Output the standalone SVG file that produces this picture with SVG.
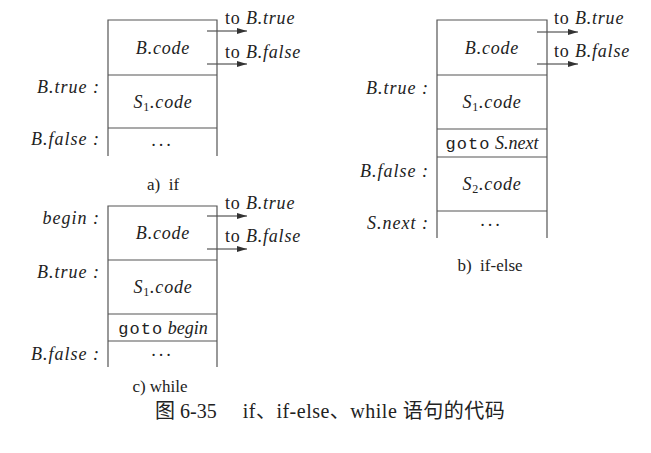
<svg xmlns="http://www.w3.org/2000/svg" width="651" height="453" viewBox="0 0 651 453">
<defs>
<marker id="ah" viewBox="0 0 10 6" refX="10" refY="3" markerWidth="10" markerHeight="6" markerUnits="userSpaceOnUse" orient="auto">
<path d="M0,0 L10,3 L0,6 Z" fill="#333"/>
</marker>
<style>
.box{fill:none;stroke:#555;stroke-width:1.2}
.sep{stroke:#555;stroke-width:1.2}
.arr{stroke:#333;stroke-width:1;marker-end:url(#ah)}
.m{font-family:"Liberation Serif",serif;font-style:italic;font-size:18px;fill:#222}
.c{text-anchor:middle}
.r{text-anchor:end}
.t{font-family:"Liberation Serif",serif;font-size:18px;fill:#222}
.tt{font-family:"Liberation Mono",monospace;font-style:normal;font-size:17px;letter-spacing:1px}
.sub{font-size:12px;font-style:normal}
.cap{font-family:"Liberation Serif",serif;font-size:17px;fill:#222;text-anchor:middle}
.fig{font-family:"Liberation Serif","Noto Sans CJK SC",serif;font-size:20px;fill:#222}
</style>
</defs>

<g id="connectors">
<line class="arr" x1="207" y1="31" x2="247" y2="31"/>
<line class="arr" x1="207" y1="64" x2="247" y2="64"/>
<line class="arr" x1="537" y1="32" x2="578" y2="32"/>
<line class="arr" x1="537" y1="64" x2="578" y2="64"/>
<line class="arr" x1="207" y1="216" x2="247" y2="216"/>
<line class="arr" x1="207" y1="249" x2="247" y2="249"/>
</g>

<g id="if">
<path class="box" d="M108,156 V20 H217 V156"/>
<line class="sep" x1="108" y1="75" x2="217" y2="75"/>
<line class="sep" x1="108" y1="128" x2="217" y2="128"/>
<text class="t" x="225" y="24" letter-spacing="0.8">to <tspan class="m">B.true</tspan></text>
<text class="t" x="225" y="58" letter-spacing="0.8">to <tspan class="m">B.false</tspan></text>
<text class="m c" x="163" y="54" letter-spacing="0.8">B.code</text>
<text class="m c" x="163" y="108" letter-spacing="0.8">S<tspan class="sub" dy="3">1</tspan><tspan dy="-3">.code</tspan></text>
<text class="m c" x="163" y="146" letter-spacing="3">...</text>
<text class="m r" x="100" y="93" letter-spacing="1">B.true  :</text>
<text class="m r" x="100" y="145" letter-spacing="1">B.false  :</text>
<text class="cap" x="163" y="190" xml:space="preserve">a)  if</text>
</g>

<g id="ifelse">
<path class="box" d="M437,238 V20 H547 V238"/>
<line class="sep" x1="437" y1="75" x2="547" y2="75"/>
<line class="sep" x1="437" y1="129" x2="547" y2="129"/>
<line class="sep" x1="437" y1="157" x2="547" y2="157"/>
<line class="sep" x1="437" y1="211" x2="547" y2="211"/>
<text class="t" x="554" y="24" letter-spacing="0.8">to <tspan class="m">B.true</tspan></text>
<text class="t" x="554" y="57" letter-spacing="0.8">to <tspan class="m">B.false</tspan></text>
<text class="m c" x="492" y="54" letter-spacing="0.8">B.code</text>
<text class="m c" x="492" y="108" letter-spacing="0.8">S<tspan class="sub" dy="3">1</tspan><tspan dy="-3">.code</tspan></text>
<text class="m c" x="492" y="149"><tspan class="tt">goto</tspan> S.next</text>
<text class="m c" x="492" y="190" letter-spacing="0.8">S<tspan class="sub" dy="3">2</tspan><tspan dy="-3">.code</tspan></text>
<text class="m c" x="492" y="226" letter-spacing="3">...</text>
<text class="m r" x="429" y="94" letter-spacing="1">B.true  :</text>
<text class="m r" x="429" y="177" letter-spacing="1">B.false  :</text>
<text class="m r" x="429" y="229" letter-spacing="1">S.next  :</text>
<text class="cap" x="490" y="271" xml:space="preserve">b)  if-else</text>
</g>

<g id="while">
<path class="box" d="M108,367 V206 H217 V367"/>
<line class="sep" x1="108" y1="260" x2="217" y2="260"/>
<line class="sep" x1="108" y1="314" x2="217" y2="314"/>
<line class="sep" x1="108" y1="341" x2="217" y2="341"/>
<text class="t" x="225" y="209" letter-spacing="0.8">to <tspan class="m">B.true</tspan></text>
<text class="t" x="225" y="242" letter-spacing="0.8">to <tspan class="m">B.false</tspan></text>
<text class="m c" x="163" y="239" letter-spacing="0.8">B.code</text>
<text class="m c" x="163" y="293" letter-spacing="0.8">S<tspan class="sub" dy="3">1</tspan><tspan dy="-3">.code</tspan></text>
<text class="m c" x="163" y="334"><tspan class="tt">goto</tspan> begin</text>
<text class="m c" x="163" y="356" letter-spacing="3">...</text>
<text class="m r" x="100" y="224" letter-spacing="1">begin  :</text>
<text class="m r" x="100" y="278" letter-spacing="1">B.true  :</text>
<text class="m r" x="100" y="360" letter-spacing="1">B.false  :</text>
<text class="cap" x="160" y="392">c) while</text>
</g>

<text class="fig" x="155" y="418">图 6-35<tspan dx="26" letter-spacing="0.5">if、if-else、while 语句的代码</tspan></text>
</svg>
